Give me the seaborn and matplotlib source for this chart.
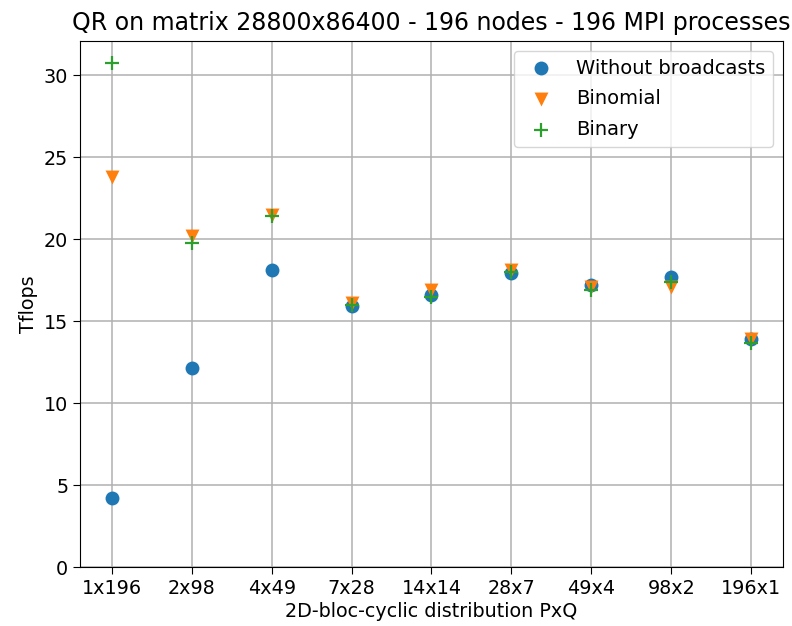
import numpy as np
import pandas as pd
import matplotlib
matplotlib.use("Agg")
import matplotlib.pyplot as plt
import seaborn as sns

# data
distributions = ["1x196", "2x98", "4x49", "7x28", "14x14", "28x7", "49x4", "98x2", "196x1"]
without_bcast = [4.2, 12.15, 18.15, 15.95, 16.6, 17.95, 17.2, 17.7, 13.9]
binomial = [23.8, 20.2, 21.5, 16.1, 16.9, 18.1, 17.1, 17.1, 13.95]
binary = [30.75, 19.8, 21.4, 16.0, 16.5, 18.0, 16.9, 17.4, 13.7]

sns.set_style("ticks")
plt.rcParams['font.family'] = ['DejaVu Sans']
plt.rcParams['text.color'] = 'black'
plt.rcParams['axes.labelcolor'] = 'black'
plt.rcParams['xtick.color'] = 'black'
plt.rcParams['ytick.color'] = 'black'

fig = plt.figure(figsize=(7.92, 6.26), dpi=100)
ax = fig.add_axes([0.101, 0.094, 0.8876, 0.8405])

x = np.arange(len(distributions))
series = [
    ("Without broadcasts", without_bcast, "o", "#1f77b4"),
    ("Binomial", binomial, "v", "#ff7f0e"),
    ("Binary", binary, "+", "#2ca02c"),
]
for name, vals, mk, col in series:
    d = pd.DataFrame({"x": x, "y": vals})
    lw = 1.6 if mk == "+" else 0
    sns.scatterplot(data=d, x="x", y="y", marker=mk, color=col, s=100,
                    linewidth=lw, ax=ax, label=name, zorder=3)

ax.set_xticks(x)
ax.set_xticklabels(distributions)
ax.set_xlim(-0.4, 8.4)
ax.set_ylim(0, 32.1)
ax.set_yticks([0, 5, 10, 15, 20, 25, 30])
ax.grid(True, color="#b0b0b0", linewidth=1.1)
ax.set_axisbelow(True)
for sp in ax.spines.values():
    sp.set_visible(True)
    sp.set_color("black")
ax.tick_params(labelsize=13.8, length=5)
ax.set_xlabel("2D-bloc-cyclic distribution PxQ", fontsize=13.8, labelpad=3)
ax.set_ylabel("Tflops", fontsize=13.8)
ax.set_title("QR on matrix 28800x86400 - 196 nodes - 196 MPI processes", fontsize=17, pad=8)
ax.legend(loc="upper right", fontsize=14, frameon=True, labelspacing=0.6)

fig.savefig("out.png", dpi=100)
